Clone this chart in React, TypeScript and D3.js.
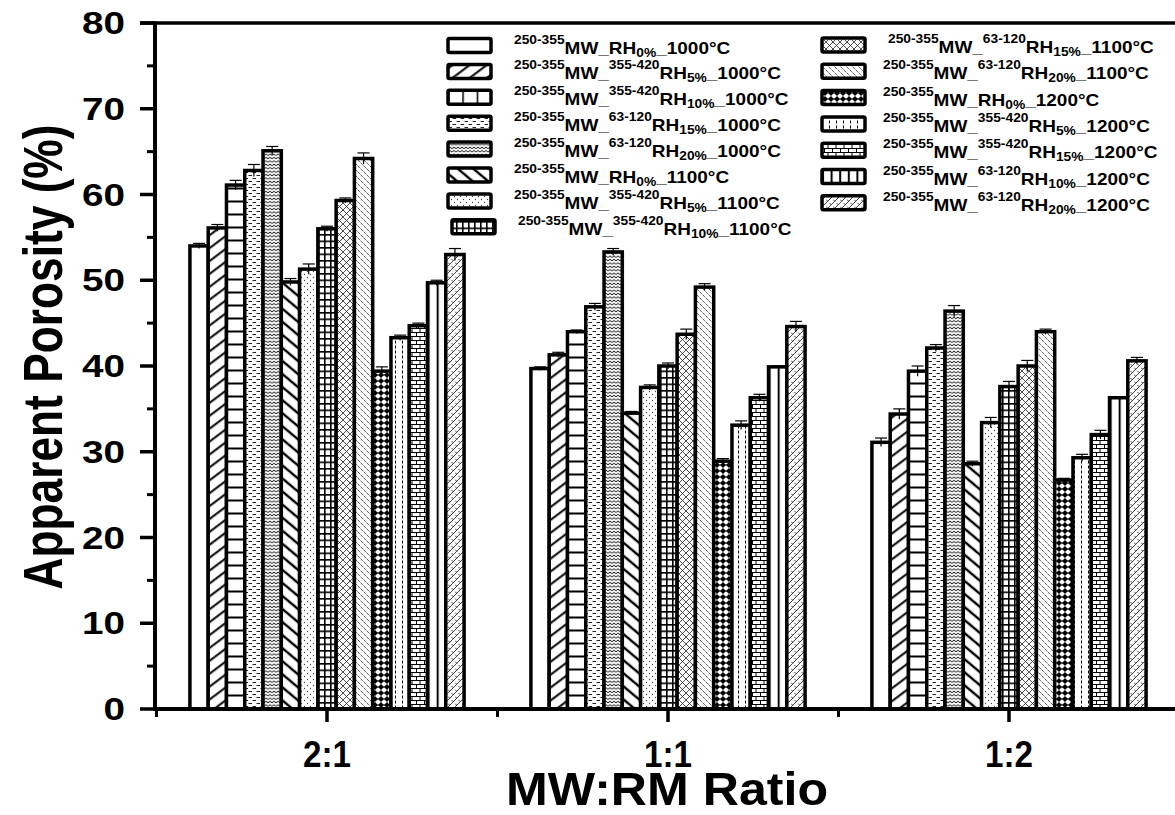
import React from 'react';
import * as d3 from 'd3';

// ---------------- DATA ----------------
const categories = ['2:1', '1:1', '1:2'];

const seriesSup = ['', '355-420', '355-420', '63-120', '63-120', '', '355-420', '355-420', '63-120', '63-120', '', '355-420', '355-420', '63-120', '63-120'];
const seriesRH = ['0%', '5%', '10%', '15%', '20%', '0%', '5%', '10%', '15%', '20%', '0%', '5%', '15%', '10%', '20%'];
const seriesTemp = ['1000°C', '1000°C', '1000°C', '1000°C', '1000°C', '1100°C', '1100°C', '1100°C', '1100°C', '1100°C', '1200°C', '1200°C', '1200°C', '1200°C', '1200°C'];
const mwPrefix = '250-355';

const values2to1 = [54.0, 56.1, 61.1, 62.8, 65.1, 49.8, 51.3, 56.0, 59.3, 64.2, 39.4, 43.3, 44.7, 49.7, 53.0];
const values1to1 = [39.7, 41.3, 44.0, 46.9, 53.3, 34.5, 37.5, 40.0, 43.7, 49.2, 28.9, 33.1, 36.3, 39.9, 44.6];
const values1to2 = [31.1, 34.4, 39.4, 42.1, 46.4, 28.6, 33.4, 37.6, 40.0, 44.0, 26.7, 29.3, 32.0, 36.3, 40.6];

const errors2to1 = [0.3, 0.4, 0.55, 0.7, 0.5, 0.4, 0.6, 0.3, 0.3, 0.65, 0.5, 0.3, 0.3, 0.3, 0.7];
const errors1to1 = [0.2, 0.3, 0.2, 0.4, 0.4, 0.2, 0.3, 0.35, 0.6, 0.4, 0.3, 0.5, 0.4, 0.1, 0.6];
const errors1to2 = [0.5, 0.6, 0.6, 0.4, 0.65, 0.3, 0.6, 0.6, 0.65, 0.3, 0.2, 0.4, 0.5, 0.1, 0.4];

const yTicks = [0, 10, 20, 30, 40, 50, 60, 70, 80];
const yMinorTicks = [5, 15, 25, 35, 45, 55, 65, 75];

const valuesByCat = [values2to1, values1to1, values1to2];
const errorsByCat = [errors2to1, errors1to1, errors1to2];

// ---------------- LAYOUT ----------------
const W = 1175;
const H = 815;
const plotLeft = 156.5;
const plotRight = 1179.5;
const plotTop = 23;
const plotBottom = 709;
const font = '"Liberation Sans", Arial, sans-serif';

function patternDef(i: number, prefix: string, legend: boolean) {
  const id = `${prefix}${i}`;
  const us = 'userSpaceOnUse';
  switch (i) {
    case 0:
      return (
        <pattern key={id} id={id} patternUnits={us} width={10} height={10}>
          <rect width={10} height={10} fill="#fff" />
        </pattern>
      );
    case 1:
      return (
        <pattern key={id} id={id} patternUnits={us} width={10} height={10.3} patternTransform="rotate(-37)">
          <rect width={10} height={10.3} fill="#fff" />
          <path d="M0,5 H10" stroke="#000" strokeWidth={2} />
        </pattern>
      );
    case 2:
      return legend ? (
        <pattern key={id} id={id} patternUnits="objectBoundingBox" width={0.3333} height={1}>
          <rect width={100} height={100} fill="#fff" />
          <path d="M0.5,0 V100" stroke="#000" strokeWidth={2} />
        </pattern>
      ) : (
        <pattern key={id} id={id} patternUnits={us} width={40} height={13}>
          <rect width={40} height={13} fill="#fff" />
          <path d="M0,6.5 H40" stroke="#000" strokeWidth={2} />
        </pattern>
      );
    case 3:
      return (
        <pattern key={id} id={id} patternUnits={us} width={8} height={6}>
          <rect width={8} height={6} fill="#fff" />
          <path d="M0.5,1.5 H4 M4.5,4.5 H8" stroke="#222" strokeWidth={1.1} />
        </pattern>
      );
    case 4:
      return (
        <pattern key={id} id={id} patternUnits={us} width={4} height={3.4}>
          <rect width={4} height={3.4} fill="#fff" />
          <path d="M0,2.5 L2,0.9 L4,2.5" stroke="#111" strokeWidth={0.9} fill="none" />
        </pattern>
      );
    case 5:
      return (
        <pattern key={id} id={id} patternUnits={us} width={10} height={10} patternTransform="rotate(40)">
          <rect width={10} height={10} fill="#fff" />
          <path d="M0,5 H10" stroke="#000" strokeWidth={2.4} />
        </pattern>
      );
    case 6:
      return (
        <pattern key={id} id={id} patternUnits={us} width={6} height={6}>
          <rect width={6} height={6} fill="#fff" />
          <circle cx={1.5} cy={1.5} r={0.65} fill="#444" />
          <circle cx={4.5} cy={4.5} r={0.65} fill="#444" />
        </pattern>
      );
    case 7:
      return (
        <pattern key={id} id={id} patternUnits={us} width={6} height={6.5}>
          <rect width={6} height={6.5} fill="#fff" />
          <path d="M0,0.8 H6 M0.8,0 V6.5" stroke="#000" strokeWidth={1.6} />
        </pattern>
      );
    case 8:
      return (
        <pattern key={id} id={id} patternUnits={us} width={7} height={7}>
          <rect width={7} height={7} fill="#fff" />
          <path d="M0,0 L7,7 M7,0 L0,7" stroke="#222" strokeWidth={0.8} />
        </pattern>
      );
    case 9:
      return (
        <pattern key={id} id={id} patternUnits={us} width={6} height={6}>
          <rect width={6} height={6} fill="#fff" />
          <path d="M0.5,0.5 L2.8,3 M3.5,3.5 L5.8,6" stroke="#333" strokeWidth={0.8} />
        </pattern>
      );
    case 10:
      return (
        <pattern key={id} id={id} patternUnits={us} width={6} height={6}>
          <rect width={6} height={6} fill="#fff" />
          <polygon points="3,0 6,3 3,6 0,3" fill="#000" />
          <path d="M0,3 H6" stroke="#000" strokeWidth={0.8} />
        </pattern>
      );
    case 11:
      return (
        <pattern key={id} id={id} patternUnits={us} width={7} height={5}>
          <rect width={7} height={5} fill="#fff" />
          <path d="M3.5,0.5 V3.5" stroke="#000" strokeWidth={1} />
        </pattern>
      );
    case 12:
      return (
        <pattern key={id} id={id} patternUnits={us} width={8} height={8}>
          <rect width={8} height={8} fill="#fff" />
          <path d="M0,0.5 H8 M0,4.5 H8 M4,0.5 V4.5 M0.5,4.5 V8" stroke="#000" strokeWidth={1} />
        </pattern>
      );
    case 13:
      return (
        <pattern key={id} id={id} patternUnits="objectBoundingBox" width={legend ? 0.2 : 0.5} height={1}>
          <rect width={100} height={2000} fill="#fff" />
          <path d="M1,0 V2000" stroke="#000" strokeWidth={2} />
        </pattern>
      );
    default:
      return (
        <pattern key={id} id={id} patternUnits={us} width={7} height={7}>
          <rect width={7} height={7} fill="#fff" />
          <path d="M0,7 L7,0 M3.5,0 L5.2,1.7 M0,3.5 L1.7,5.2" stroke="#222" strokeWidth={0.85} />
        </pattern>
      );
  }
}

export default function App() {
  const x0 = d3.scaleBand<string>().domain(categories).range([plotLeft, plotRight]).paddingInner(0.196).paddingOuter(0.098);
  const seriesIdx = d3.range(seriesTemp.length).map(String);
  const x1 = d3.scaleBand<string>().domain(seriesIdx).range([0, x0.bandwidth()]).padding(0);
  const y = d3.scaleLinear().domain([0, 80]).range([plotBottom, plotTop]);

  const bw = x1.bandwidth();
  const step = x0.step();

  const legendRows = seriesTemp.map((temp, i) => {
    const left = i < 8;
    const row = left ? i : i - 8;
    const cy = left ? 45.5 + row * 25.9 : 45 + row * 26.3;
    const bx = left ? (i === 7 ? 452 : 448) : 822;
    const tx = left ? (i === 7 ? 518 : 514) : (i === 8 ? 888 : 883);
    return { i, cy, bx, tx, temp };
  });

  return (
    <svg width={W} height={H} style={{ position: 'absolute', left: 0, top: 0, background: '#fff' }} fontFamily={font}>
      <defs>
        {seriesTemp.map((_, i) => patternDef(i, 'pat', false))}
        {seriesTemp.map((_, i) => patternDef(i, 'lpat', true))}
      </defs>
      <rect width={W} height={H} fill="#fff" />

      {/* bars */}
      {categories.map((c, ci) => (
        <g key={c}>
          {valuesByCat[ci].map((v, si) => (
            <rect
              key={si}
              x={(x0(c) as number) + (x1(String(si)) as number)}
              y={y(v)}
              width={bw}
              height={plotBottom - y(v)}
              fill={`url(#pat${si})`}
              stroke="#000"
              strokeWidth={3.5}
            />
          ))}
        </g>
      ))}

      {/* error bars */}
      {categories.map((c, ci) => (
        <g key={'e' + c} stroke="#000" strokeWidth={1.2}>
          {valuesByCat[ci].map((v, si) => {
            const cx = (x0(c) as number) + (x1(String(si)) as number) + bw / 2;
            const e = errorsByCat[ci][si];
            return (
              <g key={si}>
                <line x1={cx} x2={cx} y1={y(v - e)} y2={y(v + e)} />
                <line x1={cx - 6} x2={cx + 6} y1={y(v + e)} y2={y(v + e)} />
              </g>
            );
          })}
        </g>
      ))}

      {/* frame top */}
      <line x1={140} x2={W} y1={y(80)} y2={y(80)} stroke="#000" strokeWidth={3.5} />
      {/* y axis */}
      <line x1={155} x2={155} y1={y(80) - 1.5} y2={plotBottom + 2} stroke="#000" strokeWidth={4} />
      {yTicks.map((t) => (
        <g key={t}>
          <line x1={140} x2={155} y1={y(t)} y2={y(t)} stroke="#000" strokeWidth={3.5} />
          <text
            x={125}
            y={y(t) + 11}
            textAnchor="end"
            fontSize={31}
            fontWeight="bold"
            textLength={String(t).length * 21.5}
            lengthAdjust="spacingAndGlyphs"
          >
            {t}
          </text>
        </g>
      ))}
      {yMinorTicks.map((t) => (
        <line key={t} x1={147} x2={155} y1={y(t)} y2={y(t)} stroke="#000" strokeWidth={3} />
      ))}

      {/* x axis */}
      <line x1={153} x2={W} y1={plotBottom} y2={plotBottom} stroke="#000" strokeWidth={4} />
      {categories.map((c) => {
        const cx = (x0(c) as number) + x0.bandwidth() / 2;
        return (
          <g key={'xt' + c}>
            <line x1={cx} x2={cx} y1={plotBottom} y2={plotBottom + 13} stroke="#000" strokeWidth={3.5} />
            <text x={cx} y={767} textAnchor="middle" fontSize={37} fontWeight="bold" textLength={48} lengthAdjust="spacingAndGlyphs">
              {c}
            </text>
          </g>
        );
      })}
      {d3.range(categories.length + 1).map((k) => {
        const bx = plotLeft + k * step;
        return <line key={'xm' + k} x1={bx} x2={bx} y1={plotBottom} y2={plotBottom + 8} stroke="#000" strokeWidth={3} />;
      })}

      {/* axis titles */}
      <text x={667} y={805} textAnchor="middle" fontSize={47} fontWeight="bold" textLength={322} lengthAdjust="spacingAndGlyphs">
        MW:RM Ratio
      </text>
      <text
        transform={`translate(62,357) rotate(-90)`}
        textAnchor="middle"
        fontSize={55}
        fontWeight="bold"
        textLength={465}
        lengthAdjust="spacingAndGlyphs"
      >
        Apparent Porosity (%)
      </text>

      {/* legend */}
      {legendRows.map((r) => (
        <g key={'lg' + r.i}>
          <rect x={r.bx} y={r.cy - 7} width={43} height={14} rx={1.5} fill={`url(#lpat${r.i})`} stroke="#000" strokeWidth={3.5} />
          <g transform={`translate(${r.tx},${r.cy}) scale(1.15,1)`}>
            <text x={0} y={0} fontWeight="bold" fill="#000">
              <tspan y={-2} fontSize={12}>{mwPrefix}</tspan>
              <tspan y={8} fontSize={16.5}>MW_</tspan>
              {seriesSup[r.i] ? <tspan y={-2} fontSize={12}>{seriesSup[r.i]}</tspan> : null}
              <tspan y={8} fontSize={16.5}>RH</tspan>
              <tspan y={11} fontSize={12}>{seriesRH[r.i]}</tspan>
              <tspan y={8} fontSize={16.5}>{'_' + r.temp}</tspan>
            </text>
          </g>
        </g>
      ))}
    </svg>
  );
}
